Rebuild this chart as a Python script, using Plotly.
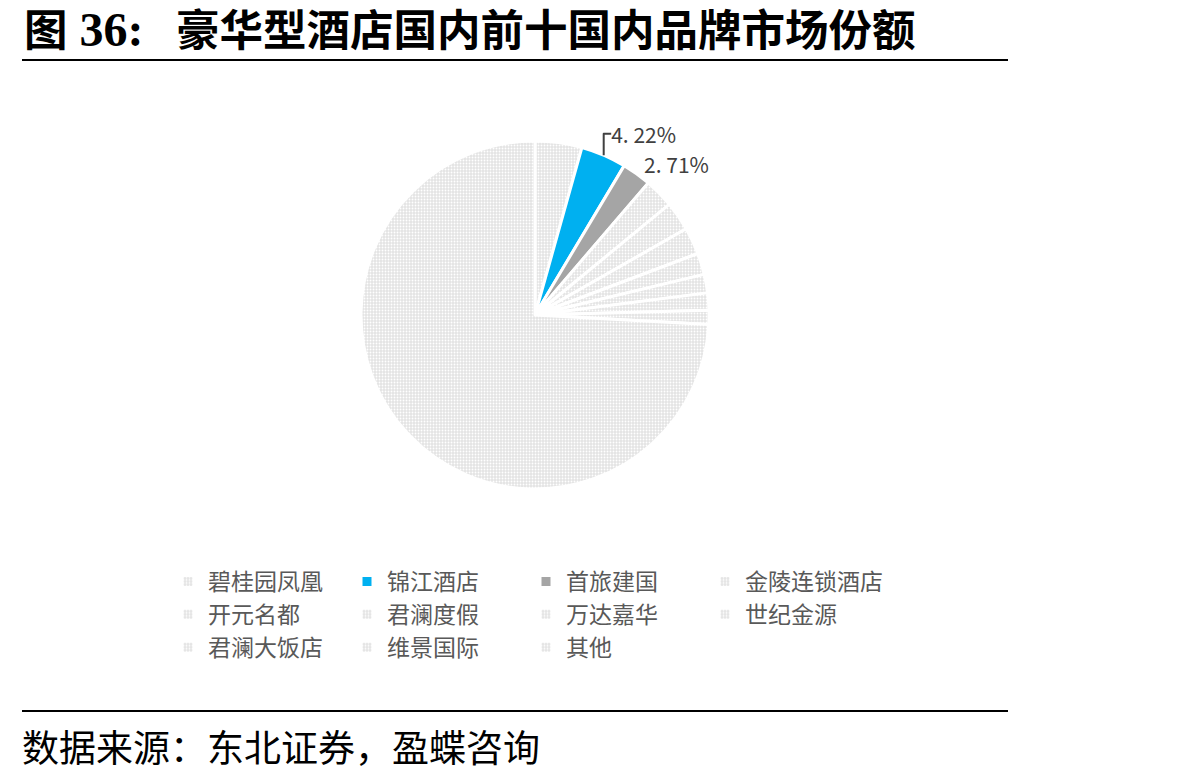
import plotly.graph_objects as go

brands = ["碧桂园凤凰", "锦江酒店", "首旅建国", "金陵连锁酒店", "开元名都", "君澜度假",
          "万达嘉华", "世纪金源", "君澜大饭店", "维景国际", "其他"]
shares = [4.35, 4.22, 2.71, 2.75, 2.72, 2.50, 2.00, 1.72, 1.60, 1.30, 74.13]
labeled = ["锦江酒店", "首旅建国"]

LIGHT = "#E4E4E4"
colors = [LIGHT, "#00B0F0", "#A5A5A5"] + [LIGHT] * 8
shapes_pat = ["." if c == LIGHT else "" for c in colors]
label_text = [(f"{v:.2f}%".replace(".", ". ") if b in labeled else "") for b, v in zip(brands, shares)]
textpos = ["outside" if b in labeled else "none" for b in brands]

W, H = 1198, 779
PW = 800            # plot-area width (limits legend to 4 columns)
cx, cy, r = 535, 315, 174


def px(x):
    return x / PW


def py(y):
    return 1 - y / H


fig = go.Figure(go.Pie(
    labels=brands, values=shares, sort=False, direction="clockwise", rotation=0,
    marker=dict(colors=colors, line=dict(color="white", width=3),
                pattern=dict(shape=shapes_pat, fgcolor="#FFFFFF", bgcolor=colors,
                             size=3, solidity=0.3)),
    text=label_text, textinfo="text", textposition=textpos,
    outsidetextfont=dict(size=21, color="#404040", family="Noto Sans CJK SC"),
    domain=dict(x=[px(cx - r), px(cx + r)], y=[py(cy + r), py(cy - r)]),
    hoverinfo="label+percent",
))

fig.update_layout(
    width=W, height=H,
    margin=dict(l=0, r=W - PW, t=0, b=0, autoexpand=False),
    paper_bgcolor="white", plot_bgcolor="white",
    font=dict(family="Noto Sans CJK SC", color="#595959"),
    legend=dict(orientation="h", x=px(168), xanchor="left", y=py(560), yanchor="top",
                font=dict(size=23, color="#595959", family="Noto Sans CJK SC"),
                entrywidth=134, entrywidthmode="pixels", itemwidth=30,
                traceorder="normal"),
    annotations=[
        dict(text="<b>图<span style='font-size:48px'> 36:</span>   豪华型酒店国内前十国内品牌市场份额</b>",
             x=px(22), y=py(30),
             xref="paper", yref="paper", xanchor="left", yanchor="middle", showarrow=False,
             font=dict(size=43.5, color="black", family="Liberation Serif, Noto Sans CJK SC")),
        dict(text="数据来源：东北证券，盈蝶咨询", x=px(20), y=py(746),
             xref="paper", yref="paper", xanchor="left", yanchor="middle", showarrow=False,
             font=dict(size=37, color="black", family="Noto Sans CJK SC")),
    ],
    shapes=[
        dict(type="line", xref="paper", yref="paper", x0=px(22), x1=px(1008),
             y0=py(60), y1=py(60), line=dict(color="black", width=2)),
        dict(type="line", xref="paper", yref="paper", x0=px(22), x1=px(1008),
             y0=py(711), y1=py(711), line=dict(color="black", width=2)),
    ],
)

fig.write_html("out.html")
